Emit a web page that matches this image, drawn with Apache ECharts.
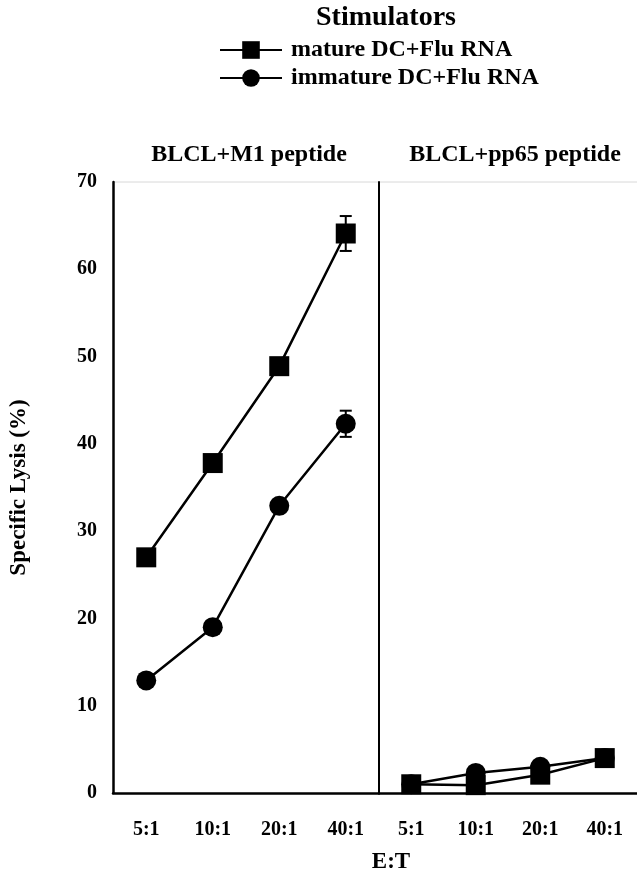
<!DOCTYPE html>
<html>
<head>
<meta charset="utf-8">
<script src="https://cdn.jsdelivr.net/npm/echarts@6/dist/echarts.min.js"></script>
<style>
html,body{margin:0;padding:0;background:#fff;}
#chart{width:637px;height:878px;}
</style>
</head>
<body>
<div id="chart"></div>
<script>
// ---- data ----
const categories = ['5:1', '10:1', '20:1', '40:1'];
const seriesNames = ['mature DC+Flu RNA', 'immature DC+Flu RNA'];
const panelTitles = ['BLCL+M1 peptide', 'BLCL+pp65 peptide'];
const yTicks = [0, 10, 20, 30, 40, 50, 60, 70];

const matureM1 = [27.0, 37.8, 48.9, 64.1];
const immatureM1 = [12.9, 19.0, 32.9, 42.3];
const matureM1Err = [0, 0, 0, 2.0];
const immatureM1Err = [0, 0, 0, 1.5];

const maturePP65 = [1.0, 0.9, 2.1, 4.0];
const immaturePP65 = [1.0, 2.3, 3.0, 4.0];

// ---- chart ----
const FONT = '"Liberation Serif", "DejaVu Serif", serif';
const chart = echarts.init(document.getElementById('chart'), null, {renderer: 'canvas'});

function lineSeries(name, data, idx, symbol) {
  return {
    name: name,
    type: 'line',
    xAxisIndex: idx,
    yAxisIndex: idx,
    data: data,
    symbol: symbol,
    symbolSize: 20,
    showAllSymbol: true,
    lineStyle: {color: '#000', width: 2.5},
    itemStyle: {color: '#000'},
    z: 3,
    animation: false
  };
}

function errSeries(vals, errs, idx) {
  const d = [];
  vals.forEach((v, i) => { if (errs[i] > 0) d.push([i, v, errs[i]]); });
  return {
    type: 'custom',
    xAxisIndex: idx,
    yAxisIndex: idx,
    data: d,
    z: 4,
    silent: true,
    animation: false,
    renderItem: function (params, api) {
      const x = api.value(0), y = api.value(1), e = api.value(2);
      const top = api.coord([x, y + e]);
      const bot = api.coord([x, y - e]);
      const w = 6;
      const st = {stroke: '#000', lineWidth: 2};
      return {
        type: 'group',
        children: [
          {type: 'line', shape: {x1: top[0], y1: top[1], x2: bot[0], y2: bot[1]}, style: st},
          {type: 'line', shape: {x1: top[0] - w, y1: top[1], x2: top[0] + w, y2: top[1]}, style: st},
          {type: 'line', shape: {x1: bot[0] - w, y1: bot[1], x2: bot[0] + w, y2: bot[1]}, style: st}
        ]
      };
    }
  };
}

const axisLabelStyle = {fontFamily: FONT, fontWeight: 'bold', fontSize: 20, color: '#000'};

const option = {
  backgroundColor: '#fff',
  animation: false,
  grid: [
    {left: 113, top: 182, width: 266, height: 611},
    {left: 379, top: 182, width: 260, height: 611}
  ],
  legend: {
    orient: 'vertical',
    left: 214,
    top: 33,
    itemWidth: 62,
    itemHeight: 22,
    itemGap: 4,
    data: seriesNames,
    textStyle: {fontFamily: FONT, fontWeight: 'bold', fontSize: 24, color: '#000', padding: [0, 0, 0, 4]},
    selectedMode: false
  },
  graphic: [
    {type: 'text', x: 386, y: 18, style: {text: 'Stimulators', font: 'bold 28px ' + FONT, fill: '#000', align: 'center', verticalAlign: 'middle'}},
    {type: 'text', x: 249, y: 155, style: {text: panelTitles[0], font: 'bold 24px ' + FONT, fill: '#000', align: 'center', verticalAlign: 'middle'}},
    {type: 'text', x: 515, y: 155, style: {text: panelTitles[1], font: 'bold 24px ' + FONT, fill: '#000', align: 'center', verticalAlign: 'middle'}},
    {type: 'text', x: 391, y: 862, style: {text: 'E:T', font: 'bold 23px ' + FONT, fill: '#000', align: 'center', verticalAlign: 'middle'}},
    {type: 'line', shape: {x1: 113, y1: 182, x2: 637, y2: 182}, style: {stroke: '#d8d8d8', lineWidth: 1}}
  ],
  xAxis: [0, 1].map(i => ({
    type: 'category',
    gridIndex: i,
    data: categories,
    boundaryGap: true,
    axisLine: {show: true, lineStyle: {color: '#000', width: 2.5}},
    axisTick: {show: false},
    splitLine: {show: false},
    axisLabel: Object.assign({margin: 27}, axisLabelStyle)
  })),
  yAxis: [
    {
      type: 'value', gridIndex: 0, min: 0, max: 70, interval: 10,
      axisLine: {show: true, lineStyle: {color: '#000', width: 2.5}},
      axisTick: {show: false},
      splitLine: {show: false},
      axisLabel: Object.assign({margin: 16, formatter: v => yTicks.includes(v) ? String(v) : ''}, axisLabelStyle),
      name: 'Specific Lysis (%)',
      nameLocation: 'middle',
      nameRotate: 90,
      nameGap: 82,
      nameTextStyle: {fontFamily: FONT, fontWeight: 'bold', fontSize: 23, color: '#000'}
    },
    {
      type: 'value', gridIndex: 1, min: 0, max: 70, interval: 10,
      axisLine: {show: true, lineStyle: {color: '#000', width: 2}},
      axisTick: {show: false},
      splitLine: {show: false},
      axisLabel: {show: false}
    }
  ],
  series: [
    lineSeries(seriesNames[0], matureM1, 0, 'rect'),
    lineSeries(seriesNames[1], immatureM1, 0, 'circle'),
    lineSeries(seriesNames[0], maturePP65, 1, 'rect'),
    lineSeries(seriesNames[1], immaturePP65, 1, 'circle'),
    errSeries(matureM1, matureM1Err, 0),
    errSeries(immatureM1, immatureM1Err, 0)
  ]
};
chart.setOption(option);
</script>
</body>
</html>
